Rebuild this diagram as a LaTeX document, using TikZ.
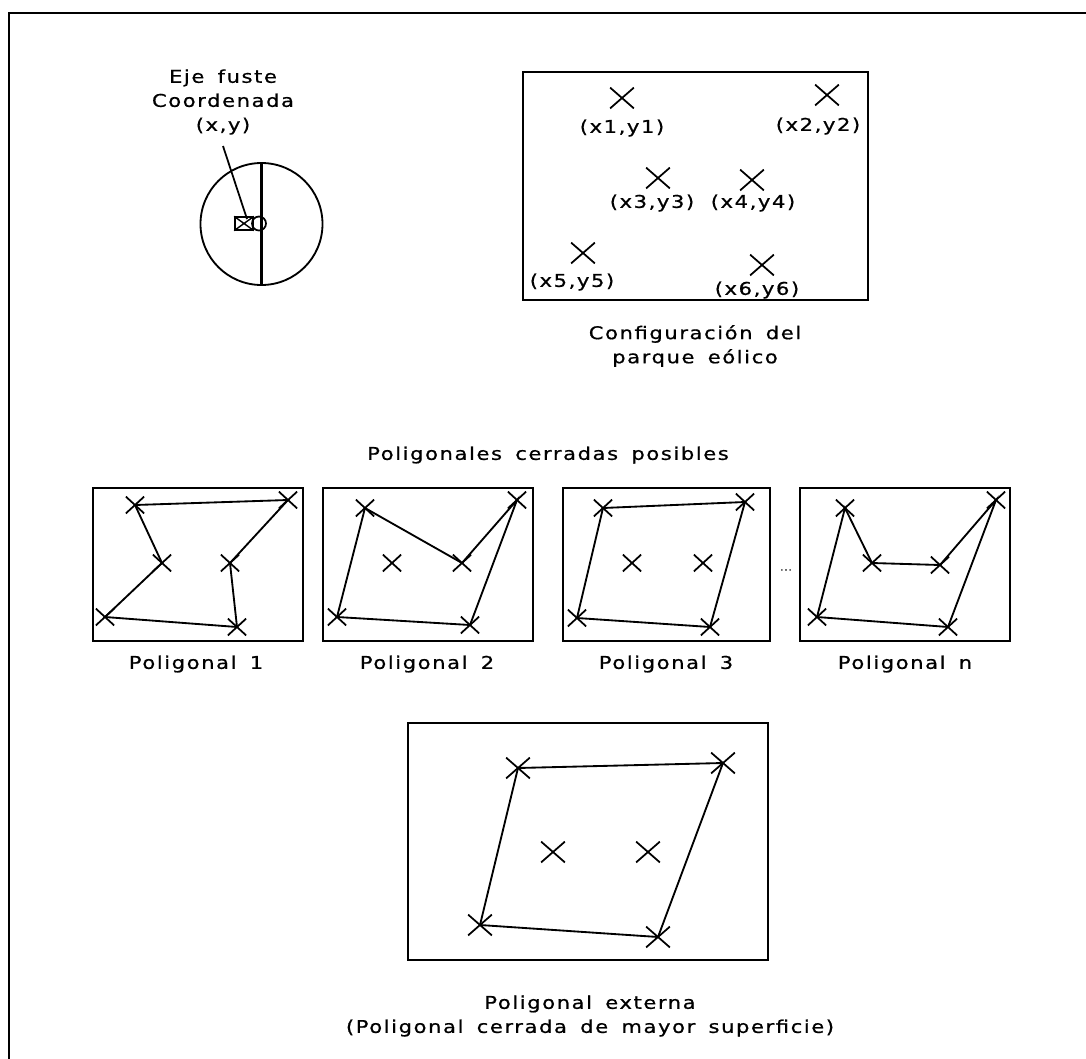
\documentclass[tikz,border=0pt]{standalone}
\usepackage{fontspec}
\newfontfamily\cad{DejaVu Sans}[FakeStretch=1.2, FakeBold=0.8, LetterSpace=9, WordSpace=1.6]
\usetikzlibrary{shapes.misc}

\begin{document}
\begin{tikzpicture}[x=0.2mm, y=-0.2mm,
    txt/.style={font=\cad\fontsize{10}{13.7}\selectfont, inner sep=0pt, align=center},
    cruz/.style={cross out, draw, line width=1pt, minimum width=4.4mm, minimum height=3.8mm, inner sep=0pt},
    cruzp/.style={cross out, draw, line width=1pt, minimum width=3.3mm, minimum height=3mm, inner sep=0pt},
    caja/.style={draw, line width=1.4pt},
    lado/.style={line width=1.05pt}]
\useasboundingbox (0,0) rectangle (1086,1059);
\draw[line width=1.2pt] (9,1059) -- (9,13) -- (1086,13);

% aerogenerador
\node[txt] (eje) at (223,102) {Eje fuste\\Coordenada\\(x,y)};
\draw[line width=1.05pt] (261.5,224) circle[radius=12.2mm];
\draw[line width=1.4pt] (261.5,162.5) -- (261.5,285.5);
\node[draw, line width=1pt, minimum width=3.6mm, minimum height=2.5mm, inner sep=0pt] (fuste) at (244,223.5) {};
\draw[line width=0.8pt] (fuste.north west) -- (fuste.south east) (fuste.south west) -- (fuste.north east);
\draw[line width=1pt] (259,223.5) circle[radius=1.4mm];
\coordinate (pfuste) at (247,219);
\draw[line width=1pt] (223,146) -- (pfuste);

% configuracion
\draw[caja] (523,72) rectangle (868,300);
\node[cruz] (a1) at (622,98) {};
\node[cruz] (a2) at (827,95) {};
\node[cruz] (a3) at (658,178) {};
\node[cruz] (a4) at (752,180) {};
\node[cruz] (a5) at (583,253) {};
\node[cruz] (a6) at (762,265) {};
\node[txt] at (622,128) {(x1,y1)};
\node[txt] at (818,126) {(x2,y2)};
\node[txt] at (652,203) {(x3,y3)};
\node[txt] at (753,203) {(x4,y4)};
\node[txt] at (572,282) {(x5,y5)};
\node[txt] at (757,290) {(x6,y6)};
\node[txt] (conf) at (695,346) {Configuración del\\parque eólico};

\node[txt] (titulo) at (548,455) {Poligonales cerradas posibles};

% poligonal 1
\draw[caja] (93,488) rectangle (303,641);
\node[cruzp] (p1a) at (135,505) {};
\node[cruzp] (p1b) at (288,500) {};
\node[cruzp] (p1c) at (162,563) {};
\node[cruzp] (p1d) at (230,563) {};
\node[cruzp] (p1e) at (105,617) {};
\node[cruzp] (p1f) at (237,627) {};
\draw[lado] (p1a.center) -- (p1c.center) -- (p1e.center) -- (p1f.center) -- (p1d.center) -- (p1b.center) -- (p1a.center);
\node[txt] at (196,664) {Poligonal 1};

% poligonal 2
\draw[caja] (323,488) rectangle (533,641);
\node[cruzp] (p2a) at (365,508) {};
\node[cruzp] (p2b) at (517,500) {};
\node[cruzp] (p2c) at (392,563) {};
\node[cruzp] (p2d) at (462,563) {};
\node[cruzp] (p2e) at (337,617) {};
\node[cruzp] (p2f) at (470,625) {};
\draw[lado] (p2a.center) -- (p2d.center) -- (p2b.center) -- (p2f.center) -- (p2e.center) -- (p2a.center);
\node[txt] at (427,664) {Poligonal 2};

% poligonal 3
\draw[caja] (563,488) rectangle (770,641);
\node[cruzp] (p3a) at (603,508) {};
\node[cruzp] (p3b) at (745,502) {};
\node[cruzp] (p3c) at (632,563) {};
\node[cruzp] (p3d) at (703,563) {};
\node[cruzp] (p3e) at (577,618) {};
\node[cruzp] (p3f) at (710,627) {};
\draw[lado] (p3a.center) -- (p3b.center) -- (p3f.center) -- (p3e.center) -- (p3a.center);
\node[txt] at (666,664) {Poligonal 3};

\node[font=\cad\fontsize{5}{6}\selectfont, inner sep=0pt] (puntos) at (786,570) {...};

% poligonal n
\draw[caja] (800,488) rectangle (1010,641);
\node[cruzp] (p4a) at (845,508) {};
\node[cruzp] (p4b) at (996,500) {};
\node[cruzp] (p4c) at (872,563) {};
\node[cruzp] (p4d) at (940,565) {};
\node[cruzp] (p4e) at (817,617) {};
\node[cruzp] (p4f) at (948,627) {};
\draw[lado] (p4e.center) -- (p4a.center) -- (p4c.center) -- (p4d.center) -- (p4b.center) -- (p4f.center) -- (p4e.center);
\node[txt] at (905,664) {Poligonal n};

% poligonal externa
\draw[caja] (408,723) rectangle (768,960);
\node[cruz] (ea) at (518,768) {};
\node[cruz] (eb) at (723,763) {};
\node[cruz] (ec) at (553,852) {};
\node[cruz] (ed) at (648,852) {};
\node[cruz] (ee) at (480,925) {};
\node[cruz] (ef) at (658,937) {};
\draw[lado] (ea.center) -- (eb.center) -- (ef.center) -- (ee.center) -- (ea.center);
\node[txt] (ext) at (590,1016) {Poligonal externa\\(Poligonal cerrada de mayor superficie)};
\end{tikzpicture}
\end{document}
